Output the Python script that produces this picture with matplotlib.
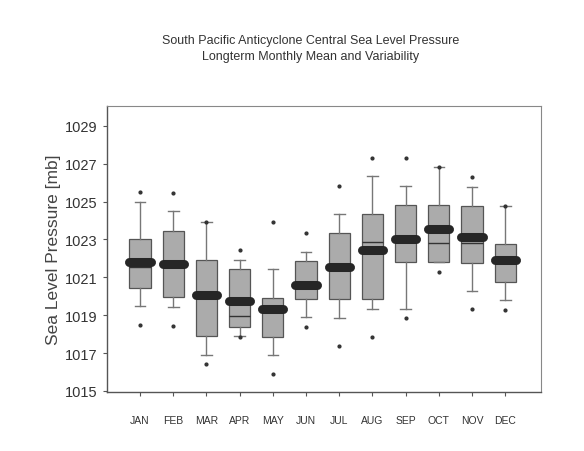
import matplotlib
matplotlib.use("Agg")
import matplotlib.pyplot as plt
from matplotlib import font_manager

# Fuente estrecha parecida al escaneo, si existe
names = {f.name for f in font_manager.fontManager.ttflist}
narrow = 'Liberation Sans Narrow' if 'Liberation Sans Narrow' in names else 'Liberation Sans'
plt.rcParams['font.family'] = [narrow, 'DejaVu Sans']

months = ["JAN", "FEB", "MAR", "APR", "MAY", "JUN",
          "JUL", "AUG", "SEP", "OCT", "NOV", "DEC"]

# Estadisticas (mb)
whisker_low = [1019.5, 1019.45, 1016.9, 1017.9, 1016.9, 1018.9,
               1018.85, 1019.35, 1019.3, 1021.8, 1020.3, 1019.8]
q1 = [1020.45, 1019.95, 1017.9, 1018.4, 1017.85, 1019.85,
      1019.85, 1019.85, 1021.8, 1021.8, 1021.75, 1020.75]
median = [1021.55, 1021.6, 1020.0, 1018.95, 1019.25, 1020.55,
          1021.5, 1022.85, 1023.0, 1022.8, 1022.8, 1021.9]
mean = [1021.8, 1021.7, 1020.05, 1019.75, 1019.3, 1020.6,
        1021.55, 1022.45, 1023.0, 1023.55, 1023.15, 1021.9]
q3 = [1023.0, 1023.45, 1021.9, 1021.45, 1019.9, 1021.85,
      1023.35, 1024.35, 1024.8, 1024.8, 1024.75, 1022.75]
whisker_high = [1025.0, 1024.5, 1023.95, 1021.9, 1021.45, 1022.35,
                1024.35, 1026.35, 1025.85, 1026.85, 1025.8, 1024.75]
outliers = [[1025.5, 1018.5], [1025.45, 1018.45], [1023.95, 1016.4],
            [1022.45, 1017.85], [1023.9, 1015.9], [1023.35, 1018.35],
            [1025.85, 1017.35], [1027.3, 1017.85], [1027.3, 1018.85],
            [1026.85, 1021.3], [1026.3, 1019.3], [1024.75, 1019.25]]

stats = []
for i, m in enumerate(months):
    stats.append({
        'label': m,
        'whislo': whisker_low[i],
        'q1': q1[i],
        'med': median[i],
        'mean': mean[i],
        'q3': q3[i],
        'whishi': whisker_high[i],
        'fliers': outliers[i],
    })

fig = plt.figure(figsize=(5.84, 4.52), dpi=100)
ax = fig.add_axes([0.183, 0.131, 0.743, 0.632])

ax.bxp(stats, positions=range(1, 13), widths=0.64, patch_artist=True,
       showmeans=True, meanline=True,
       boxprops=dict(facecolor='#ababab', edgecolor='#555555', linewidth=0.9),
       medianprops=dict(color='#333333', linewidth=1.0),
       meanprops=dict(color='#262626', linestyle='-', linewidth=6.5,
                      solid_capstyle='round'),
       whiskerprops=dict(color='#777777', linewidth=1.0),
       capprops=dict(color='#777777', linewidth=1.0),
       capwidths=0.32,
       flierprops=dict(marker='o', markersize=2, markerfacecolor='#333333',
                       markeredgecolor='#333333'))

ax.set_xlim(0, 13.07)
ax.set_ylim(1014.95, 1030.05)
ax.set_yticks(range(1015, 1030, 2))
ax.set_xticks(range(1, 13))
ax.set_xticklabels(months, fontsize=7.5, color='#333333')
ax.tick_params(axis='y', labelsize=10.5, colors='#555555', labelcolor='#333333',
               length=3, width=0.8)
ax.tick_params(axis='x', colors='#555555', labelcolor='#333333',
               length=3, width=0.8, pad=14)

for side in ['left', 'bottom']:
    ax.spines[side].set_color('#555555')
    ax.spines[side].set_linewidth(1.0)
for side in ['top', 'right']:
    ax.spines[side].set_color('#888888')
    ax.spines[side].set_linewidth(0.8)

ax.set_ylabel("Sea Level Pressure [mb]", fontsize=12.5, color='#444444',
              labelpad=3)

fig.text(0.532, 0.91, "South Pacific Anticyclone Central Sea Level Pressure",
         ha='center', va='center', fontsize=9, color='#333333')
fig.text(0.532, 0.873, "Longterm Monthly Mean and Variability",
         ha='center', va='center', fontsize=9, color='#333333')

fig.savefig("out.png", dpi=100)
